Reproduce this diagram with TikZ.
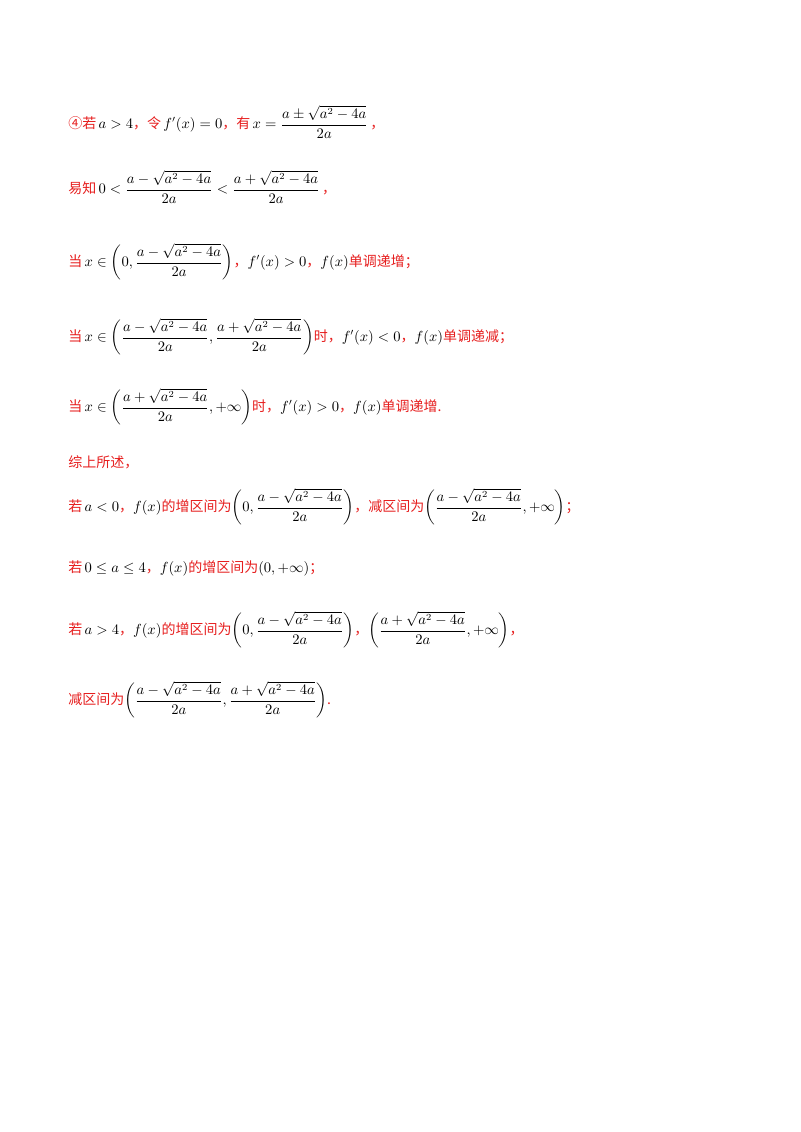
\documentclass[tikz,border=0pt]{standalone}
\usepackage{fontspec}
\usepackage{amsmath}
\setmainfont{Liberation Serif}
\newfontfamily\cjk{Noto Sans CJK SC}
\newcommand{\mm}[1]{{\color{black}$\displaystyle #1$}}
\newcommand{\sq}{\sqrt{a^2-4a}}
\definecolor{txtred}{RGB}{230,30,30}
\begin{document}
\begin{tikzpicture}[x=0.75pt,y=-0.75pt,
  line/.style={anchor=west,inner sep=0pt,font=\cjk\fontsize{10.5pt}{12pt}\selectfont,text=txtred}]
\useasboundingbox (0,0) rectangle (800,1132);
\node[line] (l1) at (68,122) {④若\,\mm{a>4}，令\,\mm{f'(x)=0}，有\,\mm{x=\frac{a\pm\sq}{2a}}\,，};
\node[line] (l2) at (68,187) {易知\,\mm{0<\frac{a-\sq}{2a}<\frac{a+\sq}{2a}}\,，};
\node[line] (l3) at (68,262) {当\,\mm{x\in\left(0,\frac{a-\sq}{2a}\right)}，\mm{f'(x)>0}，\mm{f(x)}单调递增；};
\node[line] (l4) at (68,337) {当\,\mm{x\in\left(\frac{a-\sq}{2a},\frac{a+\sq}{2a}\right)}时，\mm{f'(x)<0}，\mm{f(x)}单调递减；};
\node[line] (l5) at (68,407) {当\,\mm{x\in\left(\frac{a+\sq}{2a},+\infty\right)}时，\mm{f'(x)>0}，\mm{f(x)}单调递增.};
\node[line] (l6) at (68,462) {综上所述，};
\node[line] (l7) at (68,507) {若\,\mm{a<0}，\mm{f(x)}的增区间为\mm{\left(0,\frac{a-\sq}{2a}\right)}，减区间为\mm{\left(\frac{a-\sq}{2a},+\infty\right)}；};
\node[line] (l8) at (68,568) {若\,\mm{0\le a\le 4}，\mm{f(x)}的增区间为\mm{(0,+\infty)}；};
\node[line] (l9) at (68,630) {若\,\mm{a>4}，\mm{f(x)}的增区间为\mm{\left(0,\frac{a-\sq}{2a}\right)}，\mm{\left(\frac{a+\sq}{2a},+\infty\right)}，};
\node[line] (l10) at (68,700) {减区间为\mm{\left(\frac{a-\sq}{2a},\frac{a+\sq}{2a}\right)}.};
\end{tikzpicture}
\end{document}
